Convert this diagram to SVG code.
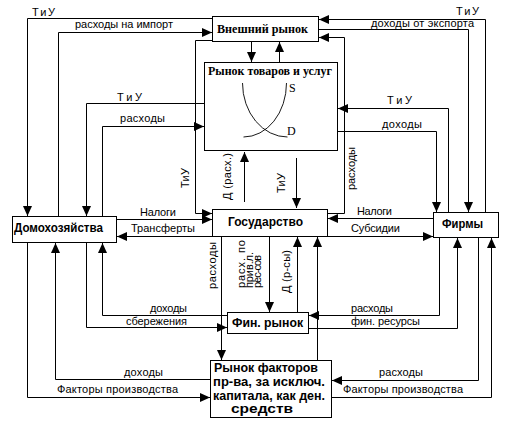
<svg xmlns="http://www.w3.org/2000/svg" width="513" height="424" viewBox="0 0 513 424">
<defs>
<marker id="a" markerWidth="10" markerHeight="10" refX="10" refY="5" orient="auto" markerUnits="userSpaceOnUse"><path d="M0,0.5 L10,5 L0,9.5 z" fill="#000"/></marker>
<style>
.box{fill:#fff;stroke:#000;stroke-width:1}
.c{fill:none;stroke:#000;stroke-width:1}
.c path{marker-end:url(#a)}
.l{font-family:"Liberation Sans",Arial,sans-serif;font-size:11px;fill:#000}
.nb{font-family:"Liberation Sans",Arial,sans-serif;font-size:12px;font-weight:bold;fill:#000}
.ns{font-family:"Liberation Serif","Times New Roman",serif;font-size:12px;font-weight:bold;fill:#000}
.cv{fill:none;stroke:#000;stroke-width:0.9}
</style>
</defs>
<rect width="513" height="424" fill="#fff"/>
<g id="connectors" class="c">
<path d="M212,18.5 H27.5 V216"/>
<path d="M58.5,216 V32.5 H212"/>
<path d="M212,40.5 H195.5 V213.5 H212"/>
<path d="M204,103.5 H86.5 V216"/>
<path d="M102.5,216 V126.5 H204"/>
<path d="M251.5,42 V62"/>
<path d="M279.5,62 V42"/>
<path d="M485.5,212 V19.5 H319"/>
<path d="M318,29.5 H468.5 V212"/>
<path d="M328,213.5 H344.5 V37.5 H319"/>
<path d="M448.5,212 V108.5 H338"/>
<path d="M338,131.5 H436.5 V212"/>
<path d="M296.5,158 V208"/>
<path d="M244.5,202 V152"/>
<path d="M117,219.5 H212"/>
<path d="M212,236.5 H117"/>
<path d="M433,218.5 H328"/>
<path d="M328,236.5 H433"/>
<path d="M221.5,237 V360"/>
<path d="M269.5,237 V312"/>
<path d="M297.5,312 V237"/>
<path d="M317.5,360 V237"/>
<path d="M227,315.5 H102.5 V243"/>
<path d="M86.5,243 V327.5 H227"/>
<path d="M210,379.5 H55.5 V243"/>
<path d="M27.5,243 V397.5 H210"/>
<path d="M439.5,238 V315.5 H309"/>
<path d="M309,328.5 H457.5 V238"/>
<path d="M478.5,238 V380.5 H332"/>
<path d="M332,397.5 H491.5 V238"/>
</g>
<g id="external-market">
<rect class="box" x="212.5" y="16.5" width="106" height="25"/>
<text class="ns" x="217" y="33" textLength="91" lengthAdjust="spacingAndGlyphs">Внешний рынок</text>
</g>
<g id="goods-market">
<rect class="box" x="204.5" y="62.5" width="133" height="88"/>
<text class="ns" x="208" y="75" textLength="124" lengthAdjust="spacingAndGlyphs">Рынок товаров и услуг</text>
<path class="cv" d="M242.5,83 A45,54 0 0 0 287.5,137"/>
<path class="cv" d="M243.5,137 A43,54 0 0 0 286.5,83"/>
<text class="ns" style="font-weight:normal" x="289" y="92">S</text>
<text class="ns" style="font-weight:normal" x="287" y="135">D</text>
</g>
<g id="households">
<rect class="box" x="12.5" y="216.5" width="104" height="26"/>
<text class="nb" x="14" y="232" textLength="89" lengthAdjust="spacingAndGlyphs">Домохозяйства</text>
</g>
<g id="government">
<rect class="box" x="212.5" y="209.5" width="115" height="27"/>
<text class="nb" x="228" y="226" textLength="75" lengthAdjust="spacingAndGlyphs">Государство</text>
</g>
<g id="firms">
<rect class="box" x="433.5" y="212.5" width="65" height="25"/>
<text class="nb" x="442" y="228" textLength="41" lengthAdjust="spacingAndGlyphs">Фирмы</text>
</g>
<g id="financial-market">
<rect class="box" x="227.5" y="312.5" width="81" height="21"/>
<text class="nb" x="232" y="327" textLength="71" lengthAdjust="spacingAndGlyphs">Фин.  рынок</text>
</g>
<g id="factor-market">
<rect class="box" x="210.5" y="360.5" width="121" height="57"/>
<text class="nb" x="214" y="372" textLength="104" lengthAdjust="spacingAndGlyphs">Рынок факторов</text>
<text class="nb" x="213" y="386" textLength="112" lengthAdjust="spacingAndGlyphs">пр-ва, за исключ.</text>
<text class="nb" x="213" y="400" textLength="112" lengthAdjust="spacingAndGlyphs">капитала, как ден.</text>
<text class="nb" x="231" y="413" textLength="62" lengthAdjust="spacingAndGlyphs">средств</text>
</g>
<g id="labels">
<text class="l" x="32" y="16" textLength="23">Т и У</text>
<text class="l" x="75" y="28" textLength="98">расходы на импорт</text>
<text class="l" x="117" y="101" textLength="25">Т и У</text>
<text class="l" x="120" y="122" textLength="45">расходы</text>
<text class="l" x="140" y="216" textLength="36">Налоги</text>
<text class="l" x="131" y="232" textLength="64">Трансферты</text>
<text class="l" x="357" y="215" textLength="35">Налоги</text>
<text class="l" x="351" y="232" textLength="49">Субсидии</text>
<text class="l" x="456" y="15" textLength="23">Т и У</text>
<text class="l" x="371" y="27" textLength="103">доходы от экспорта</text>
<text class="l" x="387" y="104" textLength="25">Т и У</text>
<text class="l" x="382" y="128" textLength="40">доходы</text>
<text class="l" x="150" y="312" textLength="37">доходы</text>
<text class="l" x="126" y="325" textLength="61">сбережения</text>
<text class="l" x="124" y="376" textLength="39">доходы</text>
<text class="l" x="57" y="393" textLength="121">Факторы производства</text>
<text class="l" x="351" y="312" textLength="42">расходы</text>
<text class="l" x="351" y="325" textLength="69">фин. ресурсы</text>
<text class="l" x="379" y="376" textLength="44">расходы</text>
<text class="l" x="343" y="393" textLength="120">Факторы производства</text>
<text class="l" transform="translate(189,188) rotate(-90)" textLength="20">ТиУ</text>
<text class="l" transform="translate(231,200) rotate(-90)" textLength="47">Д (расх.)</text>
<text class="l" transform="translate(285,193) rotate(-90)" textLength="20">ТиУ</text>
<text class="l" transform="translate(355,190) rotate(-90)" textLength="43">расходы</text>
<text class="l" transform="translate(216,289) rotate(-90)" textLength="47">расходы</text>
<text class="l" transform="translate(245,288) rotate(-90)" textLength="48">расх. по</text>
<text class="l" transform="translate(253,288) rotate(-90)" textLength="36">прив.л.</text>
<text class="l" transform="translate(261,288) rotate(-90)" textLength="33">рес-сов</text>
<text class="l" transform="translate(290,293) rotate(-90)" textLength="43">Д (р-сы)</text>
</g>
</svg>
